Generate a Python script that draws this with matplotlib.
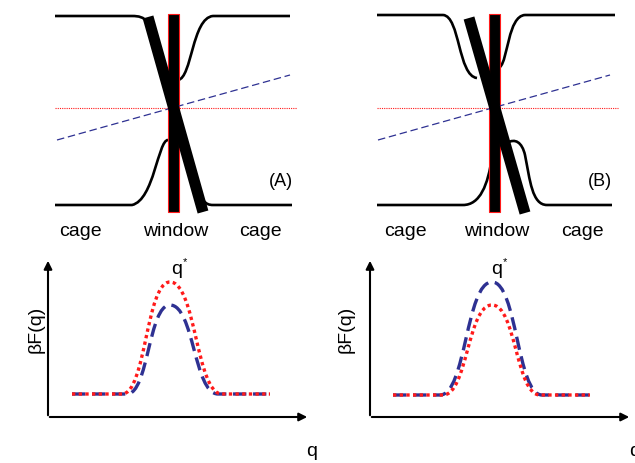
import matplotlib
matplotlib.use("Agg")
import matplotlib.pyplot as plt
from matplotlib.path import Path
from matplotlib.patches import PathPatch, Rectangle

plt.rcParams['font.family'] = ['Liberation Sans', 'DejaVu Sans']

RED = '#ff1a1a'
BLUE = '#2e3192'

# --- panel (A): wall outlines (start point, cubic triplets, trailing line points)
a_top_left = [(55, 16), (132, 16), (139, 16), (143, 17), (148, 22)]
a_top_right = [(178, 80), (192, 78), (192, 18), (213, 16), (290, 16)]
a_bot_left = [(168, 140), (158, 140), (154, 200), (132, 205), (55, 205)]
a_bot_right = [(203, 200), (206, 204), (209, 205), (213, 205), (292, 205)]
a_window_x = 168
a_bar = [(148, 17), (203, 212)]
a_blue = [(57, 140), (290, 75)]
a_red = [(55, 108), (297, 108)]

# --- panel (B)
b_top_left = [(377, 15), (443, 15), (460, 16), (458, 76), (477, 78)]
b_top_right = [(500, 67), (508, 60), (508, 16), (525, 15), (615, 15)]
b_bot_left = [(492, 157), (488, 185), (480, 205), (463, 205), (377, 205)]
b_bot_right = [(507, 143), (515, 138), (522, 142), (525, 155), (530, 180), (532, 205), (547, 205), (612, 205)]
b_window_x = 489
b_bar = [(469, 18), (525, 213)]
b_blue = [(378, 140), (610, 75)]
b_red = [(377, 108), (618, 108)]

# --- free energy profiles: baseline start, rise start, peak, fall end, baseline end
fa_red = dict(x=[72, 122, 170, 222, 270], base=394, peak=282)
fa_blue = dict(x=[72, 127, 170, 218, 270], base=394, peak=305)
fb_blue = dict(x=[393, 440, 492, 542, 590], base=395, peak=282)
fb_red = dict(x=[393, 443, 492, 540, 590], base=395, peak=305)

fig = plt.figure(figsize=(6.35, 4.63), dpi=100)
ax = fig.add_axes([0, 0, 1, 1])
ax.set_xlim(0, 635)
ax.set_ylim(463, 0)
ax.axis('off')


def wall(pts, start_line=False):
    # pts: p0, then cubic triplets, then trailing line points
    verts = [pts[0]]
    codes = [Path.MOVETO]
    rest = pts[1:]
    if start_line:
        verts.append(rest[0]); codes.append(Path.LINETO)
        rest = rest[1:]
    while len(rest) >= 3:
        verts += rest[:3]; codes += [Path.CURVE4] * 3
        rest = rest[3:]
    for p in rest:
        verts.append(p); codes.append(Path.LINETO)
    ax.add_patch(PathPatch(Path(verts, codes), fc='none', ec='black', lw=1.9))


def panel(tl, tr, bl, br, wx, bar, blue, red):
    wall(tl, start_line=True)
    wall(tr)
    wall(bl)
    wall(br)
    ax.plot([p[0] for p in red], [p[1] for p in red], color=RED, lw=0.8,
            ls=(0, (1, 1)))
    ax.plot([p[0] for p in blue], [p[1] for p in blue], color=BLUE, lw=0.9,
            ls=(0, (6, 3)))
    ax.add_patch(Rectangle((wx, 14), 11, 198, fc='black', ec=RED, lw=0.8))
    ax.plot([p[0] for p in bar], [p[1] for p in bar], color='black', lw=8,
            solid_capstyle='butt')


panel(a_top_left, a_top_right, a_bot_left, a_bot_right, a_window_x, a_bar, a_blue, a_red)
panel(b_top_left, b_top_right, b_bot_left, b_bot_right, b_window_x, b_bar, b_blue, b_red)

ax.text(281, 181, '(A)', fontsize=13, ha='center', va='center')
ax.text(600, 181, '(B)', fontsize=13, ha='center', va='center')
for xs in ([80, 176, 260], [405, 497, 582]):
    for x, s in zip(xs, ['cage', 'window', 'cage']):
        ax.text(x, 231, s, fontsize=14, ha='center', va='center')


def profile(p, color, ls):
    x0, x1, xp, x2, x3 = p['x']
    b, t = p['base'], p['peak']
    m1 = (x1 + xp) / 2
    m2 = (xp + x2) / 2
    verts = [(x0, b), (x1, b), (m1, b), (m1, t), (xp, t), (m2, t), (m2, b), (x2, b), (x3, b)]
    codes = [Path.MOVETO, Path.LINETO] + [Path.CURVE4] * 6 + [Path.LINETO]
    ax.add_patch(PathPatch(Path(verts, codes), fc='none', ec=color, lw=2.4, ls=ls))


for ox, lx in ((48, 36), (370, 346)):
    ax.annotate('', xy=(ox, 258), xytext=(ox, 418),
                arrowprops=dict(arrowstyle='-|>', color='black', lw=1.5, mutation_scale=12))
    ax.annotate('', xy=(ox + 262, 417), xytext=(ox - 1, 417),
                arrowprops=dict(arrowstyle='-|>', color='black', lw=1.5, mutation_scale=12))
    ax.text(lx, 329, r'βF(q)', fontsize=14, rotation=90, ha='center', va='center')

profile(fa_blue, BLUE, (0, (4, 2)))
profile(fa_red, RED, (0, (1, 1)))
profile(fb_blue, BLUE, (0, (4, 2)))
profile(fb_red, RED, (0, (1, 1)))

for x in (177, 497):
    ax.text(x, 270, 'q', fontsize=14, ha='center', va='center')
    ax.text(x + 8, 262, '*', fontsize=8, ha='center', va='center')

ax.text(312, 451, 'q', fontsize=14, ha='center', va='center')
ax.text(629, 451, 'q', fontsize=14, ha='left', va='center')

fig.savefig('out.png', dpi=100)
